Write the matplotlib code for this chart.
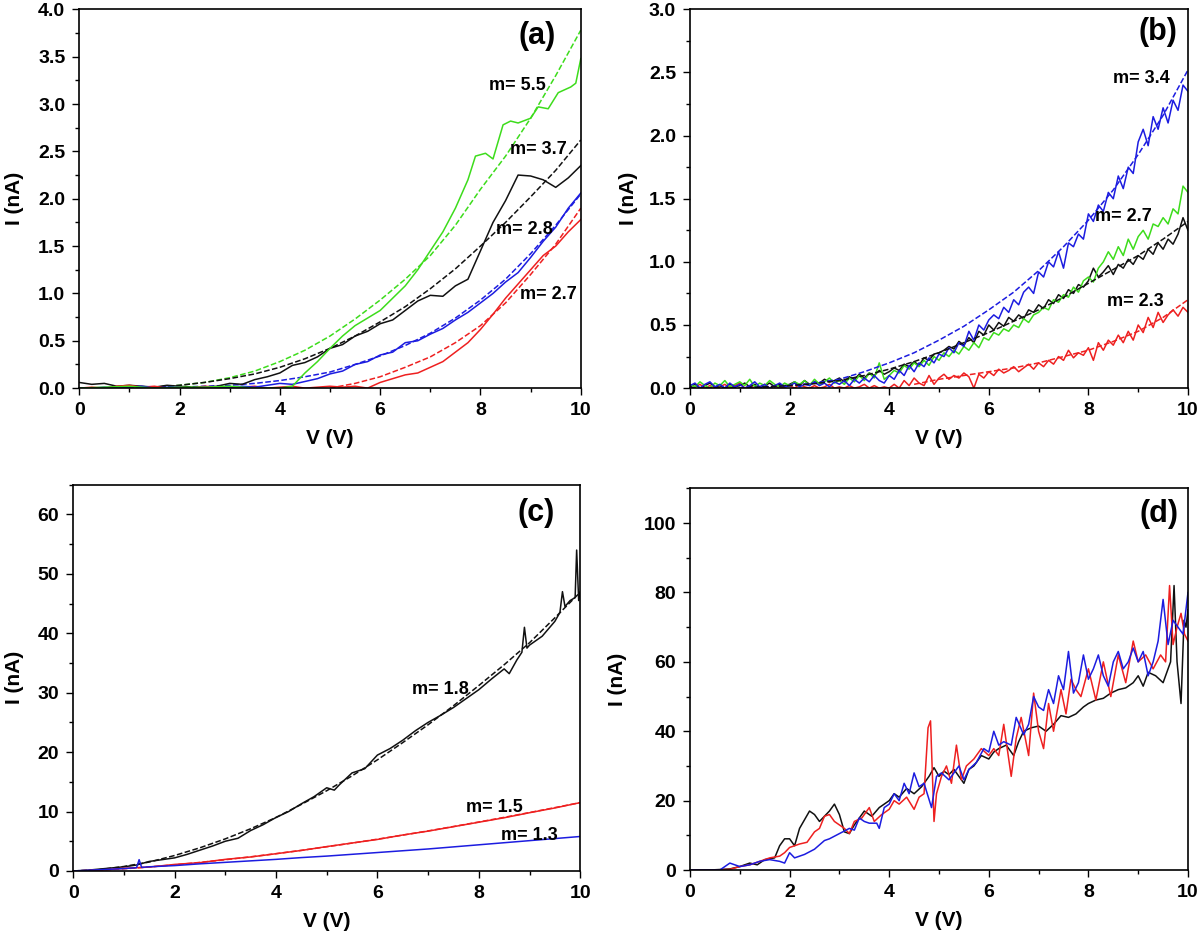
import numpy as np
import matplotlib.pyplot as plt
from matplotlib import font_manager
from matplotlib.ticker import MultipleLocator, FormatStrFormatter

installed = {f.name for f in font_manager.fontManager.ttflist}
family = ['Liberation Sans Narrow'] if 'Liberation Sans Narrow' in installed else []
plt.rcParams['font.family'] = family + ['Liberation Sans', 'DejaVu Sans']
plt.rcParams['font.weight'] = 'bold'
narrow = bool(family)

GREEN = '#3ddc1c'
RED = '#ee2020'
BLUE = '#1c1ce0'
BLACK = '#111111'

# ---------------- panel (a) ----------------
va_solid = [0, 0.25, 0.5, 0.75, 1.0, 1.25, 1.5, 1.75, 2.0, 2.25, 2.5, 2.75, 3.0, 3.25, 3.5, 3.75, 4.0,
            4.25, 4.5, 4.75, 5.0, 5.25, 5.5, 5.75, 6.0, 6.25, 6.5, 6.75, 7.0, 7.25, 7.5, 7.75, 8.0,
            8.25, 8.5, 8.75, 9.0, 9.25, 9.5, 9.75, 10.0]
ia_black = [0.06, 0.04, 0.05, 0.02, 0.03, 0.02, 0.01, 0.03, 0.02, 0.01, 0.01, 0.02, 0.05, 0.04, 0.09, 0.12, 0.16,
            0.24, 0.27, 0.33, 0.42, 0.46, 0.55, 0.6, 0.68, 0.72, 0.82, 0.92, 0.98, 0.97, 1.08, 1.15, 1.45,
            1.75, 1.98, 2.25, 2.24, 2.2, 2.12, 2.22, 2.35]
ia_blue = [0.0, 0.0, 0.01, 0.0, 0.01, 0.02, 0.0, 0.01, 0.01, 0.0, 0.01, 0.0, 0.01, 0.02, 0.01, 0.03, 0.05,
           0.04, 0.07, 0.1, 0.15, 0.18, 0.25, 0.28, 0.35, 0.38, 0.48, 0.5, 0.57, 0.63, 0.72, 0.8, 0.9,
           1.0, 1.12, 1.22, 1.38, 1.55, 1.7, 1.9, 2.06]
ia_red = [0.0, 0.01, 0.0, 0.02, 0.03, 0.01, 0.02, 0.0, 0.01, 0.0, 0.02, 0.01, 0.0, 0.01, 0.02, 0.0, 0.01,
          0.02, 0.0, 0.01, 0.02, 0.01, 0.02, 0.0, 0.06, 0.1, 0.14, 0.16, 0.22, 0.28, 0.38, 0.48, 0.62,
          0.78, 0.95, 1.1, 1.25, 1.4, 1.5, 1.65, 1.78]
va_green = [0, 0.5, 1.0, 1.5, 2.0, 2.5, 3.0, 3.5, 4.0, 4.25, 4.5, 4.75, 5.0, 5.25, 5.5, 5.75, 6.0, 6.25,
            6.5, 6.75, 7.0, 7.25, 7.5, 7.75, 7.9, 8.1, 8.25, 8.45, 8.6, 8.75, 9.0, 9.15, 9.35, 9.55, 9.8, 9.9, 10.0]
ia_green = [0.0, 0.01, 0.02, 0.0, 0.01, 0.01, 0.02, 0.0, 0.0, 0.02, 0.16, 0.28, 0.42, 0.55, 0.66, 0.74, 0.82, 0.95,
            1.08, 1.25, 1.45, 1.65, 1.9, 2.2, 2.45, 2.48, 2.42, 2.78, 2.82, 2.8, 2.85, 2.97, 2.95, 3.12, 3.18, 3.22, 3.48]

va_fit = [0, 0.5, 1.0, 1.5, 2.0, 2.5, 3.0, 3.5, 4.0, 4.5, 5.0, 5.5, 6.0, 6.5, 7.0, 7.5, 8.0, 8.5, 9.0, 9.5, 10.0]
ia_green_fit = [0, 0, 0.005, 0.01, 0.03, 0.06, 0.11, 0.18, 0.28, 0.4, 0.55, 0.73, 0.93, 1.15, 1.4, 1.72, 2.1,
                2.45, 2.85, 3.3, 3.78]
ia_black_fit = [0, 0, 0.005, 0.01, 0.03, 0.06, 0.1, 0.15, 0.22, 0.31, 0.42, 0.55, 0.7, 0.86, 1.05, 1.26, 1.5,
                1.75, 2.02, 2.3, 2.62]
ia_blue_fit = [0, 0, 0, 0.005, 0.01, 0.02, 0.03, 0.05, 0.08, 0.12, 0.17, 0.25, 0.34, 0.45, 0.58, 0.74, 0.93,
               1.15, 1.42, 1.72, 2.05]
va_red_fit = [5.0, 5.5, 6.0, 6.5, 7.0, 7.5, 8.0, 8.5, 9.0, 9.5, 10.0]
ia_red_fit = [0.0, 0.05, 0.12, 0.22, 0.33, 0.48, 0.66, 0.9, 1.2, 1.52, 1.9]

labels_a = [(8.74, 3.2, 'm= 5.5'), (9.16, 2.52, 'm= 3.7'), (8.88, 1.67, 'm= 2.8'), (9.35, 0.99, 'm= 2.7')]

# ---------------- panel (b) ----------------
vb = np.linspace(0, 10, 101)
ib_blue = [0.02, 0.04, 0.00, 0.03, 0.05, 0.01, 0.03, 0.00, 0.04, 0.01,
           0.03, 0.00, 0.02, 0.05, 0.01, 0.03, 0.00, 0.02, 0.04, 0.01,
           0.02, 0.04, 0.01, 0.03, 0.02, 0.05, 0.02, 0.04, 0.01, 0.05,
           0.03, 0.06, 0.02, 0.07, 0.04, 0.08, 0.05, 0.10, 0.06, 0.04,
           0.10, 0.07, 0.14, 0.10, 0.18, 0.13, 0.20, 0.17, 0.24, 0.20,
           0.27, 0.25, 0.32, 0.28, 0.36, 0.33, 0.45, 0.38, 0.50, 0.46,
           0.54, 0.58, 0.55, 0.64, 0.60, 0.70, 0.66, 0.76, 0.80, 0.75,
           0.92, 0.88, 1.00, 0.96, 1.08, 0.95, 1.15, 1.12, 1.22, 1.18,
           1.38, 1.32, 1.45, 1.40, 1.55, 1.50, 1.68, 1.58, 1.75, 1.70,
           1.95, 2.05, 1.92, 2.15, 2.05, 2.22, 2.10, 2.28, 2.20, 2.40, 2.35]
ib_green = [0.03, 0.01, 0.05, 0.02, 0.00, 0.04, 0.02, 0.06, 0.01, 0.03,
            0.05, 0.02, 0.07, 0.01, 0.04, 0.02, 0.06, 0.03, 0.01, 0.04,
            0.02, 0.05, 0.03, 0.06, 0.02, 0.07, 0.03, 0.05, 0.08, 0.04,
            0.06, 0.03, 0.08, 0.05, 0.10, 0.06, 0.12, 0.08, 0.20, 0.07,
            0.10, 0.14, 0.12, 0.18, 0.15, 0.20, 0.17, 0.22, 0.18, 0.25,
            0.22, 0.28, 0.25, 0.30, 0.27, 0.33, 0.30, 0.36, 0.32, 0.40,
            0.38, 0.44, 0.42, 0.47, 0.45, 0.50, 0.48, 0.55, 0.52, 0.58,
            0.60, 0.64, 0.62, 0.70, 0.68, 0.74, 0.72, 0.80, 0.76, 0.85,
            0.88, 0.84, 0.95, 1.00, 1.08, 1.02, 1.12, 1.05, 1.18, 1.10,
            1.20, 1.25, 1.18, 1.30, 1.28, 1.35, 1.30, 1.42, 1.38, 1.60, 1.55]
ib_black = [0.01, 0.03, 0.00, 0.02, 0.04, 0.01, 0.02, 0.00, 0.03, 0.01,
            0.02, 0.04, 0.01, 0.03, 0.00, 0.02, 0.04, 0.01, 0.03, 0.02,
            0.03, 0.05, 0.02, 0.06, 0.03, 0.05, 0.04, 0.07, 0.05, 0.06,
            0.08, 0.05, 0.09, 0.07, 0.11, 0.08, 0.12, 0.10, 0.14, 0.11,
            0.13, 0.16, 0.14, 0.19, 0.17, 0.21, 0.18, 0.24, 0.22, 0.27,
            0.28, 0.30, 0.33, 0.31, 0.37, 0.34, 0.40, 0.36, 0.45, 0.42,
            0.50, 0.46, 0.52, 0.49, 0.56, 0.53, 0.58, 0.55, 0.62, 0.60,
            0.66, 0.63, 0.70, 0.67, 0.74, 0.71, 0.78, 0.75, 0.82, 0.80,
            0.85, 0.95, 0.88, 0.92, 0.97, 0.90, 0.98, 0.95, 1.02, 0.98,
            1.05, 1.02, 1.10, 1.06, 1.15, 1.10, 1.18, 1.14, 1.22, 1.35, 1.25]
ib_red = [0.00, 0.01, 0.03, 0.00, 0.02, 0.00, 0.01, 0.03, 0.00, 0.02,
          0.04, 0.00, 0.02, 0.00, 0.01, 0.03, 0.00, 0.02, 0.00, 0.01,
          0.02, 0.00, 0.03, 0.01, 0.00, 0.02, 0.00, 0.01, 0.03, 0.00,
          0.01, 0.00, 0.02, 0.00, 0.01, 0.03, 0.00, 0.02, 0.00, 0.01,
          0.00, 0.03, 0.00, 0.06, 0.02, 0.08, 0.04, 0.02, 0.10, 0.03,
          0.08, 0.11, 0.07, 0.10, 0.08, 0.12, 0.09, 0.00, 0.11, 0.08,
          0.13, 0.10, 0.15, 0.12, 0.14, 0.17, 0.13, 0.16, 0.19, 0.15,
          0.20, 0.17, 0.22, 0.19, 0.25, 0.22, 0.30, 0.24, 0.28, 0.26,
          0.32, 0.22, 0.36, 0.30, 0.38, 0.34, 0.42, 0.36, 0.45, 0.38,
          0.50, 0.44, 0.56, 0.48, 0.60, 0.52, 0.58, 0.62, 0.57, 0.64, 0.60]

vb_fit = [0, 0.5, 1.0, 1.5, 2.0, 2.5, 3.0, 3.5, 4.0, 4.5, 5.0, 5.5, 6.0, 6.5, 7.0, 7.5, 8.0, 8.5, 9.0, 9.5, 10.0]
ib_blue_fit = [0, 0, 0, 0.01, 0.02, 0.04, 0.07, 0.13, 0.2, 0.28, 0.38, 0.49, 0.62, 0.76, 0.93, 1.12, 1.33,
               1.57, 1.85, 2.16, 2.52]
ib_black_fit = [0, 0, 0, 0.01, 0.02, 0.035, 0.06, 0.1, 0.15, 0.21, 0.28, 0.36, 0.44, 0.53, 0.62, 0.72, 0.83,
                0.94, 1.05, 1.18, 1.32]
vb_red_fit = [4.5, 5.0, 5.5, 6.0, 6.5, 7.0, 7.5, 8.0, 8.5, 9.0, 9.5, 10.0]
ib_red_fit = [0.03, 0.07, 0.1, 0.13, 0.16, 0.2, 0.25, 0.3, 0.37, 0.45, 0.56, 0.7]

labels_b = [(9.06, 2.45, 'm= 3.4'), (8.7, 1.36, 'm= 2.7'), (8.95, 0.69, 'm= 2.3')]

# ---------------- panel (c) ----------------
vc_black = [0, 0.25, 0.5, 0.75, 1.0, 1.25, 1.5, 1.75, 2.0, 2.25, 2.5, 2.75, 3.0, 3.25, 3.5, 3.75, 4.0,
            4.25, 4.5, 4.75, 5.0, 5.15, 5.25, 5.5, 5.75, 6.0, 6.25, 6.5, 6.75, 7.0, 7.25, 7.5, 7.75, 8.0,
            8.25, 8.5, 8.6, 8.75, 8.85, 8.9, 8.95, 9.0, 9.25, 9.5, 9.6, 9.65, 9.7, 9.8, 9.9, 9.93, 9.97, 10.0]
ic_black = [0, 0.1, 0.3, 0.5, 0.7, 1.0, 1.6, 1.9, 2.2, 2.8, 3.5, 4.2, 5.0, 5.5, 6.8, 7.8, 9.0,
            10.0, 11.3, 12.5, 14.0, 13.6, 14.5, 16.5, 17.2, 19.5, 20.6, 22.0, 23.6, 25.0, 26.2, 27.5, 29.0, 30.5,
            32.3, 34.0, 33.2, 35.5, 36.8, 41.0, 37.5, 38.0, 39.5, 42.0, 43.5, 47.0, 44.5, 45.5, 46.0, 54.0, 45.5, 47.0]
vc_fit = [0, 0.5, 1.0, 1.5, 2.0, 2.5, 3.0, 3.5, 4.0, 4.5, 5.0, 5.5, 6.0, 6.5, 7.0, 7.5, 8.0, 8.5, 9.0, 9.5, 10.0]
ic_black_fit = [0, 0.2, 0.75, 1.5, 2.6, 3.9, 5.4, 7.1, 9.0, 11.2, 13.5, 16.0, 18.7, 21.6, 24.6, 27.8, 31.2,
                34.7, 38.4, 42.6, 46.9]
ic_red = [0, 0.1, 0.45, 0.65, 1.1, 1.4, 1.95, 2.35, 2.9, 3.45, 4.1, 4.7, 5.3, 6.05, 6.7, 7.45, 8.2,
          8.95, 9.8, 10.6, 11.5]
ic_red_fit = [0, 0.13, 0.36, 0.67, 1.03, 1.44, 1.89, 2.38, 2.91, 3.47, 4.07, 4.69, 5.35, 6.03, 6.74, 7.48, 8.24,
              9.02, 9.83, 10.66, 11.5]
vc_blue = [0, 0.5, 1.0, 1.25, 1.3, 1.35, 1.5, 2.0, 2.5, 3.0, 3.5, 4.0, 4.5, 5.0, 5.5, 6.0, 6.5, 7.0,
           7.5, 8.0, 8.5, 9.0, 9.5, 10.0]
ic_blue = [0, 0.2, 0.4, 0.55, 1.9, 0.6, 0.7, 0.9, 1.2, 1.45, 1.7, 1.95, 2.25, 2.5, 2.8, 3.1, 3.4, 3.7,
           4.05, 4.4, 4.75, 5.1, 5.45, 5.8]

labels_c = [(7.25, 30.6, 'm= 1.8'), (8.3, 10.6, 'm= 1.5'), (9.0, 6.0, 'm= 1.3')]

# ---------------- panel (d) ----------------
vd_black = [0, 0.4, 0.8, 1.0, 1.2, 1.35, 1.5, 1.7, 1.8, 1.9, 2.0, 2.1, 2.2, 2.3, 2.4, 2.5, 2.6, 2.7, 2.8,
            2.9, 3.0, 3.1, 3.2, 3.3, 3.5, 3.65, 3.8, 4.0, 4.1, 4.2, 4.35, 4.5, 4.65, 4.8, 4.9, 5.0, 5.1,
            5.2, 5.3, 5.4, 5.5, 5.6, 5.7, 5.85, 6.0, 6.1, 6.2, 6.35, 6.5, 6.6, 6.7, 6.85, 7.0, 7.15, 7.3,
            7.45, 7.6, 7.75, 7.9, 8.0, 8.15, 8.3, 8.45, 8.6, 8.75, 8.9, 9.0, 9.1, 9.2, 9.35, 9.5, 9.6,
            9.65, 9.72, 9.78, 9.86, 9.92, 9.96, 10.0]
id_black = [0, 0, 0.3, 1.0, 2.0, 1.5, 3.0, 3.5, 7.0, 9.0, 9.0, 7.0, 12.0, 14.5, 17.0, 16.0, 14.0, 15.5, 17.0,
            19.0, 16.0, 11.0, 10.5, 13.0, 17.0, 15.5, 18.0, 20.0, 22.0, 21.0, 23.5, 22.0, 24.0, 27.0, 29.5, 27.0, 28.5,
            27.5, 29.0, 27.0, 25.0, 29.0, 30.0, 33.0, 32.0, 34.0, 35.0, 36.0, 33.0, 37.0, 40.0, 41.0, 41.5, 40.0, 42.0,
            44.5, 44.0, 45.0, 47.0, 48.0, 49.0, 49.5, 51.0, 52.0, 52.5, 54.0, 56.0, 53.0, 57.0, 56.0, 54.0, 58.0,
            60.0, 82.0, 60.0, 48.0, 72.0, 70.0, 75.0]
vd_red = [0, 0.5, 0.8, 1.0, 1.2, 1.4, 1.6, 1.8, 1.9, 2.0, 2.1, 2.2, 2.35, 2.5, 2.6, 2.7, 2.8, 2.9, 3.0,
          3.1, 3.2, 3.3, 3.45, 3.6, 3.7, 3.85, 4.0, 4.1, 4.2, 4.35, 4.5, 4.6, 4.7, 4.78, 4.83, 4.9, 4.95,
          5.05, 5.15, 5.25, 5.35, 5.45, 5.55, 5.7, 5.85, 6.0, 6.1, 6.2, 6.3, 6.45, 6.55, 6.65, 6.8, 6.9,
          7.0, 7.1, 7.2, 7.3, 7.45, 7.55, 7.65, 7.75, 7.85, 8.0, 8.15, 8.3, 8.45, 8.6, 8.75, 8.9, 9.0,
          9.15, 9.3, 9.45, 9.55, 9.63, 9.7, 9.78, 9.86, 9.93, 10.0]
id_red = [0, 0, 0.2, 1.0, 1.5, 2.5, 3.5, 4.0, 5.0, 6.5, 7.0, 7.5, 8.0, 11.0, 12.0, 15.5, 16.0, 14.0, 13.0,
          12.0, 10.5, 14.0, 15.0, 18.0, 14.0, 16.0, 17.5, 20.0, 19.0, 21.0, 17.5, 21.0, 22.0, 41.0, 43.0, 14.0, 22.0,
          27.0, 30.0, 25.0, 36.0, 26.0, 30.0, 32.0, 35.0, 33.0, 35.0, 33.0, 42.0, 27.0, 38.0, 44.0, 33.0, 51.0,
          40.0, 35.0, 48.0, 40.0, 52.0, 45.0, 55.0, 52.0, 50.0, 58.0, 49.0, 60.0, 50.0, 62.0, 54.0, 66.0, 60.0,
          62.0, 58.0, 62.0, 60.0, 82.0, 65.0, 70.0, 74.0, 68.0, 66.0]
vd_blue = [0, 0.6, 0.8, 1.0, 1.2, 1.4, 1.6, 1.8, 1.9, 2.0, 2.1, 2.3, 2.5, 2.7, 2.8, 3.0, 3.2, 3.3, 3.4,
           3.5, 3.6, 3.75, 3.8, 3.9, 4.0, 4.1, 4.2, 4.3, 4.4, 4.5, 4.6, 4.7, 4.85, 4.95, 5.05, 5.2, 5.3,
           5.4, 5.5, 5.6, 5.75, 5.9, 6.0, 6.1, 6.2, 6.3, 6.45, 6.55, 6.7, 6.8, 6.9, 7.0, 7.1, 7.2, 7.3,
           7.4, 7.5, 7.6, 7.7, 7.8, 7.9, 8.0, 8.1, 8.2, 8.3, 8.4, 8.5, 8.6, 8.7, 8.8, 8.9, 9.0, 9.1,
           9.2, 9.3, 9.4, 9.5, 9.6, 9.7, 9.8, 9.9, 10.0]
id_blue = [0, 0, 2.0, 1.0, 1.5, 2.5, 3.0, 2.5, 2.0, 5.0, 3.5, 4.5, 6.0, 8.5, 9.0, 10.5, 12.0, 11.5, 15.0,
           14.0, 13.5, 13.5, 12.0, 18.0, 19.0, 22.0, 20.0, 25.0, 22.0, 28.0, 24.0, 25.0, 18.0, 27.0, 28.0, 26.0, 28.0,
           30.0, 26.0, 29.0, 31.0, 35.0, 34.0, 40.0, 36.0, 37.0, 36.0, 44.0, 39.0, 42.0, 50.0, 47.0, 46.0, 52.0, 48.0,
           56.0, 52.0, 63.0, 51.0, 54.0, 62.0, 55.0, 58.0, 62.0, 56.0, 53.0, 60.0, 63.0, 58.0, 60.0, 64.0, 60.0, 63.0,
           56.0, 60.0, 66.0, 78.0, 65.0, 72.0, 70.0, 68.0, 80.0]

tick_size = 15 if narrow else 14


def style_axes(ax, ylim, ymajor, yminor, yfmt, letter, letter_pos, ypad):
    ax.set_xlim(0, 10)
    ax.set_ylim(0, ylim)
    ax.xaxis.set_major_locator(MultipleLocator(2))
    ax.xaxis.set_minor_locator(MultipleLocator(1))
    ax.yaxis.set_major_locator(MultipleLocator(ymajor))
    ax.yaxis.set_minor_locator(MultipleLocator(yminor))
    ax.yaxis.set_major_formatter(FormatStrFormatter(yfmt))
    ax.tick_params(which='major', direction='out', length=5, width=1, pad=5, labelsize=tick_size,
                   top=False, right=False)
    ax.tick_params(which='minor', direction='out', length=3, width=1, top=False, right=False)
    for s in ax.spines.values():
        s.set_linewidth(1.2)
    ax.set_xlabel('V (V)', fontsize=15, fontweight='bold', labelpad=7)
    ax.set_ylabel('I (nA)', fontsize=15, fontweight='bold', labelpad=ypad)
    ax.text(letter_pos[0], letter_pos[1], letter, transform=ax.transAxes, fontsize=22,
            fontweight='bold', ha='center', va='center')


fig = plt.figure(figsize=(12, 9.33), dpi=100)
ax_a = fig.add_axes([0.066, 0.584, 0.418, 0.406])
ax_b = fig.add_axes([0.575, 0.584, 0.415, 0.406])
ax_c = fig.add_axes([0.061, 0.0665, 0.4225, 0.414])
ax_d = fig.add_axes([0.575, 0.0675, 0.415, 0.409])

lw = 1.1
# (a)
ax_a.plot(va_fit, ia_green_fit, '--', color=GREEN, lw=lw)
ax_a.plot(va_fit, ia_black_fit, '--', color=BLACK, lw=lw)
ax_a.plot(va_fit, ia_blue_fit, '--', color=BLUE, lw=lw)
ax_a.plot(va_red_fit, ia_red_fit, '--', color=RED, lw=lw)
ax_a.plot(va_solid, ia_black, color=BLACK, lw=lw)
ax_a.plot(va_solid, ia_red, color=RED, lw=lw)
ax_a.plot(va_solid, ia_blue, color=BLUE, lw=lw)
ax_a.plot(va_green, ia_green, color=GREEN, lw=lw)
for x, y, t in labels_a:
    ax_a.text(x, y, t, fontsize=13, fontweight='bold', ha='center', va='center')
style_axes(ax_a, 4.0, 0.5, 0.25, '%.1f', '(a)', (0.912, 0.93), 10)

# (b)
ax_b.plot(vb, ib_red, color=RED, lw=lw)
ax_b.plot(vb, ib_black, color=BLACK, lw=lw)
ax_b.plot(vb, ib_green, color=GREEN, lw=lw)
ax_b.plot(vb, ib_blue, color=BLUE, lw=lw)
ax_b.plot(vb_fit, ib_blue_fit, '--', color=BLUE, lw=lw)
ax_b.plot(vb_fit, ib_black_fit, '--', color=BLACK, lw=lw)
ax_b.plot(vb_red_fit, ib_red_fit, '--', color=RED, lw=lw)
for x, y, t in labels_b:
    ax_b.text(x, y, t, fontsize=13, fontweight='bold', ha='center', va='center')
style_axes(ax_b, 3.0, 0.5, 0.25, '%.1f', '(b)', (0.94, 0.94), 8)

# (c)
ax_c.plot(vc_black, ic_black, color=BLACK, lw=lw)
ax_c.plot(vc_fit, ic_black_fit, '--', color=BLACK, lw=lw)
ax_c.plot(vc_fit, ic_red, color=RED, lw=lw)
ax_c.plot(vc_fit, ic_red_fit, '--', color=RED, lw=lw)
ax_c.plot(vc_blue, ic_blue, color=BLUE, lw=lw)
for x, y, t in labels_c:
    ax_c.text(x, y, t, fontsize=13, fontweight='bold', ha='center', va='center')
style_axes(ax_c, 65, 10, 5, '%d', '(c)', (0.913, 0.927), 10)

# (d)
ax_d.plot(vd_black, id_black, color=BLACK, lw=lw)
ax_d.plot(vd_red, id_red, color=RED, lw=lw)
ax_d.plot(vd_blue, id_blue, color=BLUE, lw=lw)
style_axes(ax_d, 110, 20, 10, '%d', '(d)', (0.941, 0.934), 12)

fig.savefig('out.png', dpi=100)
